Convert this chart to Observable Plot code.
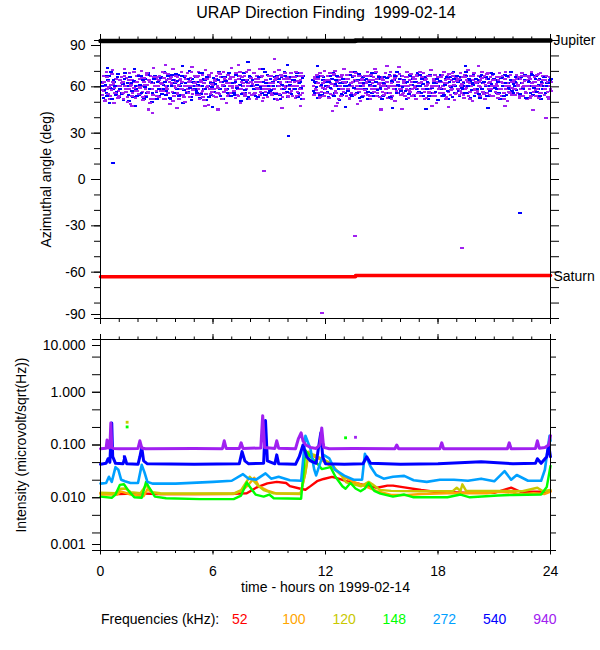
<!DOCTYPE html>
<html><head><meta charset="utf-8">
<script src="https://cdn.jsdelivr.net/npm/d3@7"></script>
<script src="https://cdn.jsdelivr.net/npm/@observablehq/plot@0.6"></script>
<style>
body{margin:0;background:#fff;font-family:"Liberation Sans",Arial,sans-serif;color:#000;}
#wrap{position:relative;width:600px;height:650px;overflow:hidden;}
#title{position:absolute;left:0;width:652px;top:4px;text-align:center;font-size:16px;white-space:pre;}
#top{position:absolute;left:0;top:0;}
#bot{position:absolute;left:0;top:330px;}
#legend{position:absolute;left:0;top:611px;width:600px;height:20px;font-size:14px;}
#legend span{position:absolute;top:0;white-space:pre;}
</style></head><body>
<div id="wrap">
<div id="top"></div>
<div id="bot"></div>
<div id="title">URAP Direction Finding  1999-02-14</div>
<div id="legend"></div>
</div>
<script>
// ---------- azimuth panel data ----------
const purpleStep = 0.04; // hours between purple (940 kHz) samples, pass A
const purpleAz = [
54.5,62,66.5,57,50.5,60,69,58.5,55,63.5,67,52,61,57.5,70.5,62.5,49,59,65,55.5,60.5,68,57,53.5,64,
58.5,66,55,62.5,51.5,71,60,56.5,65.5,53,62,58,68.5,48.5,61,64,55.5,69.5,59,63,52.5,66.5,57,60.5,67.5,
64.5,55,60,70,56.5,51,62.5,65.5,58,53.5,68.5,61,56,64,49.5,67,58.5,62,54.5,72,60,52,64.5,57,66,
60.5,53,67,58.5,62,55,69.5,57,65.5,51.5,60,64,58,68,55.5,62.5,48.5,66,61,56.5,71,53.5,64,59,62.5,
56,66,60.5,52,64,58.5,69,62.5,54.5,67,60,50,64.5,56.5,68.5,58,63,53,65.5,60.5,72.5,55,62,58.5,67,
62.5,54.5,66,58,69.5,52,60,64,56,67.5,53,62,58.5,70.5,55,64.5,60,48,66,58,62.5,68.5,56.5,61,53.5,
58.5,64.5,53,67,60.5,56,68.5,55,62.5,66,51.5,60,69.5,56.5,64,58.5,49.5,62,67.5,54.5,60,64.5,56,72,59,
66,56.5,62,52.5,68.5,60,54.5,64.5,58,69.5,49,62.5,66,56,60.5,67,54,64,58.5,51.5,62,70.5,56,60,65.5,
54.5,64,60,68.5,56,62.5,52,67,58.5,64.5,71.5,54.5,60,66,50.5,62.5,58,69,56.5,64,60.5,53,67,58,62,
60,67,54.5,62.5,58,69.5,64,56,52,66,60.5,70.5,55,62,67.5,58.5,53,64.5,60,68.5,56,62.5,66,54,60.5,
64.5,56,68.5,60,54,66,58.5,62.5,52.5,69.5,60,56.5,67,62,54.5,64,58,66.5,60.5,51.5,null,null,null,null,null,
null,null,null,null,null,null,null,60.5,54.5,66,58,62.5,67.5,56,64.5,52.5,68.5,60,56.5,66.5,62,54,70,58.5,64,
56,66.5,60,52.5,68.5,62,58,64.5,54.5,67.5,60.5,70,56,62.5,49.5,66,58.5,64,60,54,67.5,62.5,56.5,71,60.5,
62,54,67.5,58.5,64.5,51.5,60,69.5,56,66,62.5,54.5,64,58,68.5,60.5,48.5,66.5,56.5,62,67,58,64.5,54,60,
58,66.5,56,62.5,69.5,54.5,64,60,51.5,67.5,58.5,62,66,56.5,71.5,60,54,64.5,58,67,53,62,60.5,66,56.5,
64,54.5,60,68.5,58,62.5,52.5,66,60.5,56,69.5,62,54,64,58.5,67.5,50.5,60,66.5,56,62.5,72.5,58,64.5,54.5,
60.5,67,56,62,54,66,58,69.5,60,52.5,64,56.5,68,62.5,58,66,54.5,60,64.5,51.5,67,58.5,62,56,69,
54,62.5,66,58,68.5,56.5,64,60.5,52.5,67,62,56,66.5,58.5,70.5,60,54,64.5,56,67.5,60,49.5,62.5,66,58,
66,56,62.5,54,67.5,60,69.5,58,64,52,62,66.5,56.5,68,60.5,54.5,64,58,67,62.5,51,60,66,56,64.5,
58,64.5,54.5,68.5,60,56,66,62.5,52.5,67.5,58.5,64,60.5,70.5,54,62,56.5,66.5,60,50.5,64,68.5,58,62.5,56,
62.5,56,67,60.5,54,64,58,69.5,56.5,62,66.5,52,60,64.5,56,68.5,62,54.5,66,58.5,60,67.5,54,64,60.5,
56.5,66,60,52.5,64,68.5,58,62.5,54,67,60.5,56,64.5,69.5,58.5,62,50.5,66,60,56,67.5,62.5,54.5,64,58,
64,54.5,62,67.5,56,60.5,66,52.5,64.5,58,68.5,62,54,60,66.5,56.5,64,51.5,67,60,58.5,64.5,54,69.5,62,
60,56.5,66,62.5,54,67.5,58,64,52.5,60.5,68.5,56,62,66.5,58.5,54.5,64,60,67,56.5,62.5,52,66,58,63
];
const pass2Step = 1/12, pass2Offset = 1/24; // hours, second pass for both frequencies
const purpleAz2 = [
57.5,63,51,66,59.5,54,68,61.5,56,64.5,52.5,60,
62,55.5,67,58,50,64,60.5,53.5,69,57,62.5,55,
59,65.5,53,61,67.5,56.5,63,51.5,58,66,60.5,54,
64,57,61.5,52,68.5,59,55.5,65,62,50.5,60,66.5,
55,61,64.5,58.5,53,67,60,56,63.5,69.5,57.5,62,
60,66.5,54.5,62.5,57,51,65,59.5,67.5,55,61.5,58,
63.5,56,59,68,52,61,65.5,57.5,54,62,66,60.5,
57,64,60,53.5,66.5,58.5,62,55,69,60,51.5,63,
61.5,55,65,59,62.5,56.5,67,52.5,60,64,58,66.5,
56,62,58.5,65.5,51,60.5,63,67,55.5,59,64.5,53,
62.5,57,60,66,54,63.5,58,68.5,56,null,null,null,
null,null,null,60,65,57.5,62,53,66.5,59,63.5,56,
59.5,64,55,61.5,68,57,62.5,51.5,60,66,58,63,
65,58.5,52.5,62,60,67,55,63.5,58,50.5,64,61,
57.5,62,66.5,54,60,64,58.5,69,56,61.5,53,65,
61,55.5,63,59,67,52,60.5,65.5,57,62.5,68,58,
55,63.5,60,66,57.5,61,53.5,64.5,59,67.5,56,62,
63,58,51.5,65,61,56.5,67,59.5,63.5,54,60,66,
59,66,56,62,53,64.5,60.5,57.5,68.5,61,55,63.5,
64.5,57,61.5,54.5,66,59,63,52,60,67,57.5,62,
57,63,59.5,65.5,55,61,68,58,62.5,53.5,64,60,
61.5,55,66,58,62,51.5,64.5,60,56.5,67.5,59,63,
58,65,61,54,67,59.5,63.5,56,60.5,66,52.5,62,
63,57.5,60,68,55.5,61.5,64,58,66.5,53,60,57
];
const blueStep = 1/12; // hours between blue (540 kHz) samples, pass A
const blueAz = [
60,52.5,67,56,64,49.5,69.5,58,62.5,54.5,66,53,
64,56,51,68.5,60.5,54.5,66,62,53,71,58,60,
54.5,66.5,60,52,64.5,56,68.5,58.5,50,62,67,56.5,
62.5,53.5,66,58,69.5,54.5,60,64.5,52,67.5,56,62,
58,67.5,54.5,62,49,66,60.5,56.5,70,53,64.5,60,
66,56,62.5,52.5,68.5,58,64,51,60,66.5,54.5,62,
56.5,64.5,60,69.5,54,62.5,52,66,58,67.5,60.5,54,
62,54.5,67.5,58.5,64.5,50.5,60,68.5,56,64,53,66,
60.5,68.5,56,62.5,53,66,58.5,71.5,54.5,62,67.5,56,
64.5,56,60,52,67,62.5,54.5,66,58,69.5,60,53,
58.5,66,54,64,60,68.5,56,62.5,51.5,67,null,null,
null,null,null,64,56,62,52.5,67,60.5,54.5,66,58,
62.5,53,66.5,58,68.5,56,64,60,51,66,54.5,62,
56,64.5,60,67.5,54,62.5,69.5,58,64,52.5,60,66,
64,58,52,62.5,66.5,56,60.5,68.5,54,64.5,58.5,62,
54,66,60,56,67.5,52.5,62.5,64,58,69.5,56,60.5,
66.5,56,62,51.5,60,67.5,58,64.5,54,62.5,68.5,56.5,
60,64.5,54,66,58.5,52,67.5,60.5,56,64,62,51,
56,67.5,60,54.5,64.5,62,51.5,66,58.5,69,56,64,
62.5,54,66,58,60.5,69.5,56,64.5,52.5,62,67.5,58.5,
58.5,64,52.5,67.5,62,56,66,60.5,54,68.5,60,64.5,
64,56,62.5,51.5,66,60,67.5,54.5,62,58,69.5,56,
60.5,66,56,64.5,54,62,58.5,67.5,52.5,64,60,68.5,
54.5,62.5,67,58,64.5,52,60,66,56,62,51.5,64
];
const blueAz2 = [
63,57.5,61,54,66.5,59,52,64,60.5,56.5,68,58,
55,61.5,65,58.5,62,50.5,66,57,63.5,60,53.5,67,
61,56,64,59.5,53,67.5,58,62.5,55.5,65,60,51.5,
58.5,65.5,55,61,63,57,66.5,52.5,60,64,56,68,
63.5,54,60.5,67,57.5,62,55.5,65,59,51,63,58,
57,61,68.5,55,60,64.5,58,66,53,62,59.5,65.5,
61.5,55.5,64,58,51.5,66,60,63.5,56,68.5,54,62,
56,63,59,66.5,61,55,64,57.5,62.5,52,67,60,
64,58,53.5,61,66,59.5,56,63,69,54.5,60.5,57,
57.5,62.5,66,55,60,64.5,51.5,61,58,67,56.5,63,
61,55,64,58.5,67,53,62,59,65.5,null,null,null,
null,null,null,57,63,59.5,66,54.5,61,64,56,60.5,
56.5,63,59,65,53.5,61.5,67,58,62,55,64.5,60,
63,57,61,54.5,66,59,63.5,56,68,60.5,53,62,
58,64.5,56.5,61,68.5,54,60,63,57.5,66,59,52,
62,56,65.5,59,53,63.5,60,67,55.5,61,64.5,57,
59.5,64,57,62.5,55,66.5,61,53.5,63,58,60,67.5,
56,61.5,65,58,63,54,67,59,62,56.5,64.5,60,
63.5,58,54,61,66,57,62.5,59.5,53,65,60,67,
57,64,59,62,55.5,67,60,63.5,57.5,61,54,65,
62,55,66,58.5,63,60,53.5,64.5,57,61.5,68,59,
58,63,56,65.5,60.5,54,62,67,59,64,57,61.5,
63,57.5,61,55,66,59,64,52.5,60,62.5,56,67.5,
59,64.5,56.5,61,54,63,58,66,60.5,53,62,65
];
// sparse outliers (hour, azimuth)
const purpleOutT  = [2.7,23.7,23.0,8.65,13.5,19.2,11.73,4.0,6.2,16.0,12.5,9.6,18.5,10.6,21.5,14.9,1.6,2.5,12.3,9.2,7.3,15.2,5.5,20.1,17.6,3.4];
const purpleOutAz = [42.5,39.5,44.6,5.3,-36.8,-44.5,-86.6,46,45,45.5,47,46,46.5,47,47,45,47,45,44,77.5,74,73,47,73,47,74];
const blueOutT  = [0.6,9.95,22.3,5.9,1.8,13.0,20.6,17.3,7.8,9.9,4.3,19.4,0.3,15.5,11.5];
const blueOutAz = [10.5,27.6,-22,46.5,47,46.5,46,45.5,75.5,74,73,73,72,46,73];
// planet reference directions
const jupiterT  = [0,13.6,13.6,24];
const jupiterAz = [89.6,89.6,90,90];
const saturnT   = [0,13.6,13.6,24];
const saturnAz  = [-63,-63,-62.2,-62.2];
const planetNames = ["Jupiter","Saturn"];
const planetAz    = [90,-62.5];
const hourTicks = [0,1,2,3,4,5,6,7,8,9,10,11,12,13,14,15,16,17,18,19,20,21,22,23,24];
const hourMajor = [0,6,12,18,24];
const azMinor = [-90,-80,-70,-60,-50,-40,-30,-20,-10,0,10,20,30,40,50,60,70,80,90];
const azLabels = [-60,-30,0,30,60];

// ---------- intensity panel data ----------
const t52  = [0,1,2,3,5,7,7.8,8.3,8.9,9.4,9.9,10.1,10.67,10.93,11.2,11.55,11.9,12.35,12.7,13.1,13.7,14.2,14.75,15.3,15.6,16.2,17.1,17.8,19.4,21.0,21.9,22.4,23.7,24];
const i52  = [0.0122,0.0118,0.0121,0.0118,0.0117,0.0119,0.0122,0.0155,0.0187,0.02,0.019,0.0166,0.0148,0.0142,0.0166,0.0206,0.0227,0.0249,0.023,0.0206,0.0187,0.017,0.0155,0.017,0.017,0.0157,0.014,0.013,0.0124,0.0124,0.0155,0.013,0.013,0.0133];
const t100 = [0,0.9,1.07,1.3,1.6,2.3,2.5,2.75,3.2,7.1,7.55,7.9,8.2,8.45,8.9,9.4,10.67,10.9,11.1,11.4,11.8,12.27,12.9,13.5,14.1,14.75,15.5,16.4,17.1,18.5,20.6,21.2,22.0,22.4,23.1,23.7,24];
const i100 = [0.0115,0.0115,0.0132,0.0125,0.0115,0.0107,0.0145,0.0125,0.0118,0.0118,0.0137,0.0178,0.024,0.0165,0.0137,0.012,0.0118,0.027,0.075,0.06,0.052,0.04,0.026,0.02,0.0166,0.0134,0.0113,0.0113,0.0118,0.0122,0.0122,0.013,0.0125,0.0116,0.0122,0.0118,0.013];
const t120 = [0,0.8,1.07,1.33,1.6,2.13,2.43,2.75,3.2,7.1,7.5,7.96,8.4,8.7,9.2,10.67,10.93,11.1,11.4,11.8,12.3,12.6,12.9,13.1,13.5,13.9,14.3,14.5,14.9,15.5,17,18.8,19.0,19.2,19.3,19.5,21,22.5,23.3,23.6,24];
const i120 = [0.0124,0.0122,0.0148,0.015,0.0128,0.0122,0.0173,0.0128,0.0122,0.012,0.014,0.025,0.017,0.014,0.0122,0.012,0.03,0.07,0.065,0.055,0.045,0.033,0.025,0.0195,0.018,0.0165,0.02,0.018,0.0141,0.0135,0.0133,0.0135,0.0155,0.0135,0.018,0.0135,0.0135,0.0133,0.0155,0.0133,0.014];
const t148 = [0,0.6,0.8,1.03,1.25,1.5,1.8,2.2,2.43,2.6,2.9,3.5,5.3,7.1,7.5,7.8,8.0,8.27,8.7,9.0,9.24,10.7,10.93,11.2,11.55,11.8,12.27,12.53,12.9,13.07,13.33,13.6,13.87,14.1,14.3,14.6,14.93,15.6,16.2,16.7,18.5,19.2,19.7,21.2,22.0,23.5,23.8,24];
const i148 = [0.0105,0.01,0.0115,0.0175,0.018,0.0135,0.0102,0.01,0.02,0.0155,0.0105,0.0098,0.0094,0.0094,0.011,0.0195,0.0155,0.0115,0.0105,0.0115,0.0098,0.0096,0.08,0.06,0.045,0.035,0.038,0.025,0.0165,0.0148,0.019,0.015,0.0133,0.015,0.019,0.0135,0.012,0.0105,0.0115,0.0102,0.0102,0.0115,0.0102,0.011,0.0113,0.0115,0.016,0.04];
const t272 = [0,0.3,0.45,0.6,0.8,0.95,1.1,1.3,1.6,2.0,2.2,2.35,2.5,2.8,4,6,7.0,7.6,7.9,8.3,8.8,9.1,9.5,10.1,10.7,10.93,11.2,11.4,11.5,11.73,11.9,12.2,12.5,13.0,13.5,13.95,14.1,14.4,14.7,15.1,15.6,16.2,16.7,17.4,18.1,18.85,19.6,20.3,21.0,21.55,21.9,22.2,22.8,23.5,23.7,23.95,24];
const i272 = [0.0185,0.019,0.025,0.02,0.038,0.034,0.022,0.0205,0.019,0.019,0.042,0.03,0.02,0.0185,0.0185,0.02,0.021,0.028,0.023,0.022,0.029,0.023,0.025,0.0215,0.021,0.15,0.084,0.034,0.0265,0.047,0.065,0.056,0.034,0.0263,0.022,0.022,0.068,0.039,0.027,0.023,0.025,0.026,0.0215,0.02,0.022,0.022,0.021,0.023,0.0205,0.032,0.022,0.027,0.021,0.021,0.034,0.15,0.12];
const t540 = [0,0.3,0.4,0.5,0.55,0.6,0.65,0.8,1.2,1.3,1.4,2.0,2.1,2.2,2.3,2.5,5,7.4,7.55,7.7,7.9,8.7,8.8,8.9,9.3,9.4,9.5,10.4,10.6,10.8,11.0,11.2,11.5,11.75,11.85,12.0,13,14.0,14.2,14.4,16,18,20.3,22,23.2,23.3,23.5,23.8,23.9,24];
const i540 = [0.043,0.045,0.055,0.047,0.12,0.26,0.06,0.045,0.044,0.058,0.044,0.043,0.06,0.09,0.05,0.044,0.043,0.044,0.075,0.05,0.044,0.045,0.29,0.05,0.044,0.065,0.044,0.043,0.06,0.1,0.06,0.05,0.045,0.17,0.06,0.044,0.043,0.044,0.06,0.045,0.043,0.044,0.048,0.044,0.045,0.055,0.045,0.06,0.1,0.06];
const t940 = [0,0.3,0.35,0.4,0.5,0.55,0.6,0.7,1.0,2.0,2.1,2.2,2.4,5.0,6.5,6.6,6.7,7.4,7.5,7.6,8.55,8.65,8.75,9.3,9.4,9.5,10.4,10.55,10.7,10.8,10.95,11.2,11.5,11.7,11.8,11.9,12.2,13.5,15.7,15.8,15.9,18.1,18.2,18.3,21.7,21.8,21.9,23.2,23.3,23.4,23.7,23.9,24];
const i940 = [0.085,0.087,0.125,0.088,0.09,0.26,0.09,0.086,0.085,0.086,0.12,0.088,0.085,0.086,0.085,0.12,0.086,0.086,0.11,0.086,0.088,0.36,0.09,0.086,0.12,0.087,0.085,0.13,0.17,0.12,0.1,0.09,0.086,0.1,0.21,0.09,0.085,0.086,0.085,0.1,0.085,0.085,0.11,0.085,0.085,0.11,0.085,0.086,0.12,0.087,0.09,0.1,0.15];
// isolated bursts (hour, intensity, frequency)
const burstT = [1.42,1.42,13.07,13.6,1.27,11.9];
const burstV = [0.27,0.22,0.137,0.14,0.06,0.1];
const burstF = ["120","148","148","940","540","940"];

const freqs  = ["52","100","120","148","272","540","940"];
const colors = ["#ff0000","#ffa500","#c8c800","#00ff00","#00a0ff","#0000ff","#a020f0"];
const intensityTicks = [0.001,0.00215,0.00464,0.01,0.0215,0.0464,0.1,0.215,0.464,1,2.15,4.64,10];
const intensityLabels = [0.01,0.1,1];

// ---------- build ----------
const colorOf = Object.fromEntries(freqs.map((f,i)=>[f,colors[i]]));
const keep = d => d.az != null;
const purpleA = purpleAz.map((az,i)=>({t:i*purpleStep, az})).filter(keep)
  .concat(purpleOutT.map((t,i)=>({t, az:purpleOutAz[i]})));
const purpleB = purpleAz2.map((az,i)=>({t:i*pass2Step+pass2Offset, az})).filter(keep);
const blueA = blueAz.map((az,i)=>({t:i*blueStep, az})).filter(keep)
  .concat(blueOutT.map((t,i)=>({t, az:blueOutAz[i]})));
const blueB = blueAz2.map((az,i)=>({t:i*pass2Step+pass2Offset, az})).filter(keep);
const jup = jupiterT.map((t,i)=>({t, az:jupiterAz[i], seg:i<2?0:1}));
const sat = saturnT.map((t,i)=>({t, az:saturnAz[i], seg:i<2?0:1}));
const planets = planetNames.map((n,i)=>({name:n, az:planetAz[i]}));
const dashW = 0.19, dashH = 0.65;
const dash = (data, fill) => Plot.rect(data, {x1: "t", x2: d=>d.t+dashW, y1: d=>d.az-dashH, y2: d=>d.az+dashH, fill, shapeRendering: "crispEdges"});
const blank = () => "";
const font = "'Liberation Sans', Arial, sans-serif";

const topPlot = Plot.plot({
  width: 600, height: 330,
  marginTop: 40, marginBottom: 12, marginLeft: 100, marginRight: 50,
  x: {domain: [0,24]},
  y: {domain: [-90,90]},
  style: {fontFamily: font, fontSize: "14px", color: "black", background: "transparent", overflow: "visible"},
  marks: [
    dash(blueA, colors[5]),
    dash(purpleA, colors[6]),
    dash(blueB, colors[5]),
    dash(purpleB, colors[6]),
    Plot.line(jup, {x: "t", y: "az", z: "seg", stroke: "black", strokeWidth: 4.5}),
    Plot.line(sat, {x: "t", y: "az", z: "seg", stroke: "#ff0000", strokeWidth: 3.5}),
    Plot.frame({stroke: "black"}),
    Plot.axisX({anchor: "top", ticks: hourTicks, tickSize: 4.5, tickFormat: blank, label: null}),
    Plot.axisX({anchor: "top", ticks: hourMajor, tickSize: 7, tickFormat: blank, label: null}),
    Plot.axisX({anchor: "bottom", ticks: hourTicks, tickSize: 4, tickFormat: blank, label: null}),
    Plot.axisX({anchor: "bottom", ticks: hourMajor, tickSize: 6, tickFormat: blank, label: null}),
    Plot.axisY({anchor: "left", ticks: azMinor, tickSize: 6, tickFormat: blank, label: null}),
    Plot.axisY({anchor: "left", ticks: azLabels, tickSize: 9, tickPadding: 6, tickFormat: d=>String(d), fontSize: 14, label: null}),
    Plot.axisY({anchor: "left", ticks: [90], tickSize: 9, tickPadding: 6, tickFormat: d=>String(d), fontSize: 14, dy: 5, label: null}),
    Plot.axisY({anchor: "left", ticks: [-90], tickSize: 9, tickPadding: 6, tickFormat: d=>String(d), fontSize: 14, dy: -4, label: null}),
    Plot.axisY({anchor: "right", ticks: azMinor, tickSize: 8, tickFormat: blank, label: null}),
    Plot.text(planets, {x: () => 24, y: "az", text: "name", textAnchor: "start", dx: 3, fontSize: 14, fill: "black"}),
    Plot.text(["Azimuthal angle (deg)"], {frameAnchor: "left", textAnchor: "middle", rotate: -90, dx: -54, fontSize: 14, fill: "black"})
  ]
});
document.getElementById("top").append(topPlot);

const seriesT = [t52,t100,t120,t148,t272,t540,t940];
const seriesV = [i52,i100,i120,i148,i272,i540,i940];
const widths  = [2.4,2.4,2.4,2.4,2.6,3,3];
const lineMarks = freqs.map((f,k) => Plot.line(seriesT[k].map((t,j)=>({t, v: seriesV[k][j]})),
  {x: "t", y: "v", stroke: colors[k], strokeWidth: widths[k]}));
const bursts = burstT.map((t,i)=>({t, v: burstV[i], c: colorOf[burstF[i]]}));

const botPlot = Plot.plot({
  width: 600, height: 280,
  marginTop: 9, marginBottom: 60, marginLeft: 100, marginRight: 50,
  x: {domain: [0,24]},
  y: {type: "log", domain: [0.001,10]},
  style: {fontFamily: font, fontSize: "14px", color: "black", background: "transparent", overflow: "visible"},
  marks: [
    ...lineMarks,
    Plot.dot(bursts, {x: "t", y: "v", fill: d=>d.c, r: 1.6, symbol: "square", stroke: "none"}),
    Plot.frame({stroke: "black"}),
    Plot.axisX({anchor: "top", ticks: hourTicks, tickSize: 3.5, tickFormat: blank, label: null}),
    Plot.axisX({anchor: "top", ticks: hourMajor, tickSize: 6, tickFormat: blank, label: null}),
    Plot.axisX({anchor: "bottom", ticks: hourTicks, tickSize: 3, tickFormat: blank, label: null}),
    Plot.axisX({anchor: "bottom", ticks: hourMajor, tickSize: 4.5, tickPadding: 11, tickFormat: d=>String(d), fontSize: 14, label: null}),
    Plot.axisY({anchor: "left", ticks: intensityTicks, tickSize: 8, tickFormat: blank, label: null}),
    Plot.axisY({anchor: "left", ticks: intensityLabels, tickSize: 8, tickPadding: 7, tickFormat: d3.format(".3f"), fontSize: 14, label: null}),
    Plot.axisY({anchor: "left", ticks: [10], tickSize: 8, tickPadding: 7, tickFormat: d3.format(".3f"), fontSize: 14, dy: 6, label: null}),
    Plot.axisY({anchor: "left", ticks: [0.001], tickSize: 8, tickPadding: 7, tickFormat: d3.format(".3f"), fontSize: 14, dy: -6, label: null}),
    Plot.axisY({anchor: "right", ticks: intensityTicks, tickSize: 5, tickFormat: blank, label: null}),
    Plot.text(["time - hours on 1999-02-14"], {frameAnchor: "bottom", dy: 41.5, fontSize: 14, fill: "black"}),
    Plot.text(["Intensity (microvolt/sqrt(Hz))"], {frameAnchor: "left", textAnchor: "middle", rotate: -90, dx: -79, fontSize: 14, fill: "black"})
  ]
});
document.getElementById("bot").append(botPlot);

// legend
const legend = document.getElementById("legend");
const lab = document.createElement("span");
lab.textContent = "Frequencies (kHz):";
lab.style.left = "101px";
legend.append(lab);
freqs.forEach((f,i) => {
  const s = document.createElement("span");
  s.textContent = f;
  s.style.color = colors[i];
  s.style.left = (232 + i*50.2) + "px";
  legend.append(s);
});
</script>
</body></html>
